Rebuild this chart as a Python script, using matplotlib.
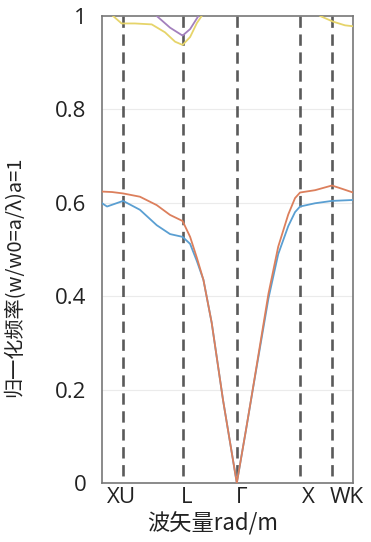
import numpy as np
import matplotlib
matplotlib.use("Agg")
import matplotlib.pyplot as plt

plt.rcParams['font.family'] = ['Open Sans', 'Noto Sans CJK SC', 'DejaVu Sans']

# high-symmetry points along the path (normalised path length)
sym_pos = [0.084, 0.321, 0.537, 0.789, 0.916]
tick_pos = [0.078, 0.337, 0.556, 0.822, 0.975]
tick_labels = ['XU', 'L', 'Γ', 'X', 'WK']

# band 1
k1 = [0.000, 0.020, 0.052, 0.084, 0.151, 0.218, 0.271, 0.321, 0.351, 0.378,
      0.404, 0.437, 0.482, 0.537, 0.574, 0.609, 0.663, 0.702, 0.742, 0.769,
      0.789, 0.849, 0.916, 1.000]
band1 = [0.599, 0.592, 0.598, 0.604, 0.585, 0.552, 0.533, 0.527, 0.512, 0.475,
         0.435, 0.343, 0.178, 0.000, 0.115, 0.226, 0.395, 0.490, 0.550, 0.580,
         0.592, 0.599, 0.604, 0.606]

# band 2
k2 = [0.000, 0.040, 0.084, 0.151, 0.218, 0.271, 0.321, 0.351, 0.378, 0.404,
      0.437, 0.482, 0.537, 0.574, 0.609, 0.663, 0.702, 0.742, 0.769, 0.789,
      0.849, 0.916, 0.956, 1.000]
band2 = [0.624, 0.623, 0.620, 0.613, 0.595, 0.574, 0.561, 0.527, 0.482, 0.435,
         0.343, 0.178, 0.000, 0.115, 0.228, 0.405, 0.506, 0.575, 0.610, 0.622,
         0.627, 0.637, 0.630, 0.622]

# band 3 (near the top, clipped at 1)
k3a = [0.000, 0.044, 0.078, 0.131, 0.198, 0.251, 0.291, 0.321, 0.351, 0.378,
       0.397, 0.422]
band3a = [1.020, 1.000, 0.984, 0.984, 0.982, 0.965, 0.945, 0.938, 0.955, 0.985,
          1.000, 1.020]
k3b = [0.849, 0.869, 0.920, 0.968, 1.000]
band3b = [1.010, 1.000, 0.988, 0.980, 0.978]

# band 4
k4 = [0.191, 0.218, 0.271, 0.321, 0.351, 0.384, 0.402]
band4 = [1.020, 1.000, 0.975, 0.958, 0.972, 1.000, 1.020]

fig = plt.figure(figsize=(3.71, 5.42), dpi=100)
ax = fig.add_axes([0.275, 0.1089, 0.6765, 0.8616])

for y in [0.2, 0.4, 0.6, 0.8]:
    ax.axhline(y, color='#ebebeb', lw=0.8, zorder=0)

for x in sym_pos:
    ax.plot([x, x], [1, 0], color='#5a5a5a', lw=1.9, dashes=(4.3, 2.5), zorder=1)

ax.plot(k1, band1, color='#5a9fd2', lw=1.3, zorder=3)
ax.plot(k2, band2, color='#dc7f5c', lw=1.3, zorder=3)
ax.plot(k3a, band3a, color='#e6d46a', lw=1.3, zorder=3)
ax.plot(k3b, band3b, color='#e6d46a', lw=1.3, zorder=3)
ax.plot(k4, band4, color='#a380bd', lw=1.3, zorder=3)

ax.set_xlim(0, 1)
ax.set_ylim(0, 1)
ax.set_yticks([0, 0.2, 0.4, 0.6, 0.8, 1])
ax.set_yticklabels(['0', '0.2', '0.4', '0.6', '0.8', '1'])
ax.set_xticks(tick_pos)
ax.set_xticklabels(tick_labels)
ax.tick_params(axis='both', length=0, labelsize=16, colors='#222222')
ax.tick_params(axis='y', pad=11)
ax.tick_params(axis='x', pad=3)

for s in ax.spines.values():
    s.set_color('#777777')
    s.set_linewidth(1.2)

ax.set_xlabel('波矢量rad/m', fontsize=16, family=['Noto Sans CJK SC', 'DejaVu Sans'], color='#222222')
ax.xaxis.set_label_coords(0.442, -0.088)
ax.xaxis.label.set_va('center')
ax.set_ylabel('归一化频率(w/w0=a/λ)a=1', fontsize=14.5, family=['Noto Sans CJK SC', 'DejaVu Sans'], color='#222222')
ax.yaxis.set_label_coords(-0.347, 0.441)
ax.yaxis.label.set_va('center')

fig.savefig('out.png', dpi=100)
